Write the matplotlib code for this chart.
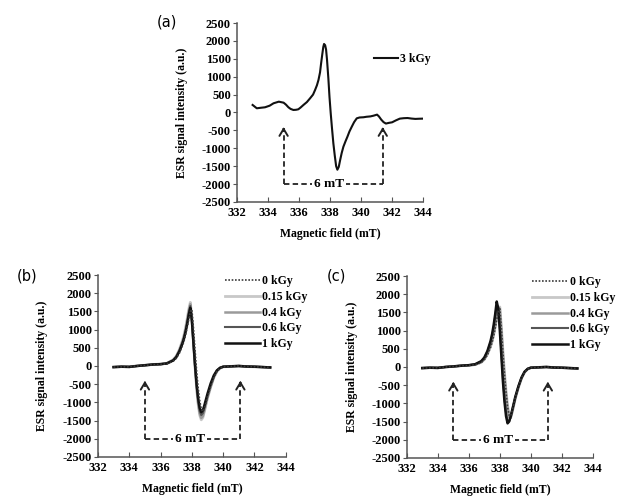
import numpy as np
import matplotlib
matplotlib.use('Agg')
import matplotlib.pyplot as plt

plt.rcParams['font.family'] = ['Liberation Serif', 'DejaVu Serif']
plt.rcParams['font.weight'] = 'bold'

# panel (a): 3 kGy
a_field = [333.0, 333.27, 333.5, 333.8, 334.1, 334.35, 334.69, 335.0, 335.15, 335.31, 335.45, 335.63,
           335.8, 335.95, 336.1, 336.28, 336.5, 336.71, 336.9, 337.03, 337.15, 337.25, 337.35, 337.42,
           337.5, 337.56, 337.61, 337.68, 337.74, 337.8, 337.89, 337.96, 338.04, 338.12, 338.21, 338.3,
           338.39, 338.47, 338.56, 338.65, 338.75, 338.86, 339.0, 339.12, 339.25, 339.4, 339.55, 339.72,
           339.9, 340.15, 340.35, 340.6, 340.8, 341.03, 341.15, 341.3, 341.45, 341.6, 341.8, 342.0,
           342.25, 342.5, 342.75, 343.0, 343.25, 343.5, 343.75, 344.0]
a_signal = [210, 117, 130, 145, 190, 257, 302, 274, 220, 145, 100, 70,
            75, 89, 140, 210, 290, 397, 500, 628, 760, 908, 1120, 1374,
            1640, 1830, 1915, 1880, 1760, 1480, 940, 440, -22, -430, -860, -1200,
            -1500, -1600, -1520, -1327, -1130, -955, -800, -676, -530, -397, -270, -164,
            -140, -134, -120, -110, -90, -60, -110, -200, -270, -310, -290, -275,
            -220, -172, -160, -155, -170, -180, -175, -172]

# panels (b) and (c): dose series
bc_field = [333.0, 333.5, 334.0, 334.5, 335.0, 335.5, 336.0, 336.4, 336.8, 337.0, 337.2, 337.4,
            337.5, 337.6, 337.7, 337.8, 337.9, 338.0, 338.1, 338.2, 338.3, 338.4, 338.5, 338.6,
            338.7, 338.8, 338.9, 339.0, 339.2, 339.4, 339.6, 339.8, 340.0, 340.5, 341.0, 341.5,
            342.0, 342.5, 343.0]
doses = ['0 kGy', '0.15 kGy', '0.4 kGy', '0.6 kGy', '1 kGy']

b_signal = {
    '0 kGy': [-30, -25, -20, 0, 15, 35, 45, 60, 130, 210, 350, 560,
              690, 860, 1060, 1280, 1500, 1550, 1050, 450, -120, -600, -950, -1180,
              -1250, -1180, -1020, -850, -560, -320, -150, -60, -25, -10, 5, -15,
              -20, -30, -40],
    '0.15 kGy': [-35, -20, -25, 5, 20, 40, 55, 75, 170, 270, 450, 700,
                 860, 1060, 1300, 1560, 1750, 1300, 650, 0, -600, -1050, -1350, -1480,
                 -1420, -1250, -1060, -880, -580, -320, -150, -60, -25, -10, 0, -15,
                 -25, -30, -45],
    '0.4 kGy': [-30, -20, -25, 0, 20, 40, 50, 70, 160, 260, 430, 670,
                820, 1010, 1250, 1500, 1700, 1280, 640, 0, -580, -1010, -1300, -1430,
                -1380, -1220, -1040, -860, -570, -310, -140, -55, -20, -10, 0, -15,
                -20, -30, -40],
    '0.6 kGy': [-30, -20, -25, 0, 20, 40, 50, 70, 155, 250, 415, 640,
                790, 970, 1200, 1450, 1650, 1260, 640, 20, -540, -960, -1240, -1350,
                -1300, -1150, -980, -810, -530, -290, -130, -50, -20, -10, 0, -15,
                -20, -30, -40],
    '1 kGy': [-30, -20, -25, 0, 20, 40, 50, 70, 150, 240, 400, 620,
              760, 940, 1150, 1400, 1600, 1250, 650, 50, -480, -880, -1150, -1270,
              -1220, -1080, -920, -760, -480, -260, -120, -50, -20, -10, 0, -15,
              -20, -30, -40],
}
c_signal = {
    '0 kGy': [-30, -25, -20, 0, 15, 30, 45, 60, 120, 200, 330, 540,
              680, 850, 1060, 1300, 1520, 1600, 1050, 400, -200, -700, -1100, -1330,
              -1350, -1200, -1020, -840, -540, -300, -140, -55, -20, -10, 0, -15,
              -25, -30, -40],
    '0.15 kGy': [-30, -20, -25, 0, 15, 35, 45, 65, 130, 210, 350, 560,
                 700, 880, 1100, 1350, 1580, 1650, 1100, 450, -150, -650, -1050, -1300,
                 -1380, -1230, -1050, -860, -560, -310, -140, -55, -20, -10, 0, -15,
                 -20, -30, -40],
    '0.4 kGy': [-30, -20, -25, 0, 15, 35, 45, 65, 130, 215, 360, 580,
                720, 900, 1130, 1390, 1620, 1600, 1000, 350, -250, -750, -1150, -1380,
                -1400, -1240, -1050, -860, -560, -310, -140, -55, -20, -10, 0, -15,
                -20, -30, -40],
    '0.6 kGy': [-30, -20, -25, 0, 15, 35, 50, 70, 150, 250, 420, 680,
                850, 1080, 1380, 1700, 1650, 1100, 400, -300, -850, -1250, -1480, -1500,
                -1380, -1200, -1020, -840, -540, -300, -130, -50, -20, -10, 0, -15,
                -20, -30, -40],
    '1 kGy': [-30, -20, -25, 0, 15, 35, 50, 75, 160, 260, 440, 710,
              900, 1150, 1450, 1800, 1600, 1000, 300, -400, -950, -1350, -1550, -1500,
              -1360, -1180, -1000, -820, -530, -290, -130, -50, -20, -10, 0, -15,
              -20, -30, -40],
}

x_ticks = [332, 334, 336, 338, 340, 342, 344]
y_ticks = [-2500, -2000, -1500, -1000, -500, 0, 500, 1000, 1500, 2000, 2500]

dose_styles = {
    '0 kGy': dict(color='#3a3a3a', lw=1.2, ls=(0, (1, 1)), zorder=6),
    '0.15 kGy': dict(color='#c8c8c8', lw=2.0, ls='-', zorder=2),
    '0.4 kGy': dict(color='#9a9a9a', lw=1.8, ls='-', zorder=3),
    '0.6 kGy': dict(color='#555555', lw=1.5, ls='-', zorder=4),
    '1 kGy': dict(color='#111111', lw=1.8, ls='-', zorder=5),
}

arrows_a = [335.0, 341.4]
arrows_bc = [335.0, 341.1]


def style_axes(ax, xlabel_y):
    ax.set_xlim(332, 344)
    ax.set_ylim(-2500, 2500)
    ax.set_xticks(x_ticks)
    ax.set_xticklabels([str(t) for t in x_ticks], fontsize=9, fontweight='bold')
    ax.set_yticks(y_ticks)
    ax.set_yticklabels([str(t) for t in y_ticks], fontsize=9, fontweight='bold')
    for s in ['top', 'right']:
        ax.spines[s].set_visible(False)
    for s in ['left', 'bottom']:
        ax.spines[s].set_color('#555555')
        ax.spines[s].set_linewidth(1.1)
    ax.tick_params(axis='x', direction='in', length=3.5, color='#555555', pad=4)
    ax.tick_params(axis='y', direction='out', length=3, color='#555555', pad=1.5)
    ax.set_ylabel('ESR signal intensity (a.u.)', fontsize=8.5, fontweight='bold')
    ax.yaxis.set_label_coords(-0.265, 0.5)
    ax.set_xlabel('Magnetic field (mT)', fontsize=8.5, fontweight='bold')
    ax.xaxis.set_label_coords(0.5, xlabel_y)


def draw_span(ax, xs, tip, text_x):
    dash = (0, (3, 1.8))
    for x in xs:
        ax.plot([x, x], [-2000, tip - 120], color='#222222', lw=1.3, ls=dash, zorder=7)
        ax.annotate('', xy=(x, tip), xytext=(x, tip - 250),
                    arrowprops=dict(arrowstyle='->,head_length=0.5,head_width=0.3',
                                    color='#222222', lw=1.4), zorder=7)
    ax.plot([xs[0], xs[1]], [-2000, -2000], color='#222222', lw=1.3, ls=dash, zorder=7)
    ax.text(text_x, -2000, '6 mT', ha='center', va='center', fontsize=9.5, fontweight='bold',
            bbox=dict(facecolor='white', edgecolor='none', pad=1.5), zorder=8)


fig = plt.figure(figsize=(6.24, 5.01), dpi=100)

ax_a = fig.add_axes([0.380, 0.597, 0.298, 0.357])
ax_a.plot(a_field, a_signal, color='#111111', lw=1.5, label='3 kGy')
style_axes(ax_a, -0.145)
draw_span(ax_a, arrows_a, -330, 337.95)
ax_a.legend(loc='upper left', bbox_to_anchor=(0.69, 0.88), frameon=False, fontsize=8.5,
            handlelength=2.1, handletextpad=0.1, borderpad=0.2)

ax_b = fig.add_axes([0.157, 0.088, 0.301, 0.363])
ax_c = fig.add_axes([0.652, 0.086, 0.298, 0.363])
for ax, data in [(ax_b, b_signal), (ax_c, c_signal)]:
    for d in doses:
        st = dose_styles[d]
        ax.plot(bc_field, data[d], color=st['color'], lw=st['lw'], ls=st['ls'],
                zorder=st['zorder'], label=d)
    style_axes(ax, -0.145)
    draw_span(ax, arrows_bc, -330, 337.9)
    ax.legend(loc='upper left', bbox_to_anchor=(0.63, 1.045), frameon=False, fontsize=8.5,
              handlelength=3.0, handletextpad=0.2, labelspacing=0.32, borderpad=0.2)

fig.text(157 / 624, 1 - 22 / 501, '(a)', fontsize=10.5, family='DejaVu Sans', weight='normal',
         va='center', ha='left')
fig.text(17 / 624, 1 - 276 / 501, '(b)', fontsize=10.5, family='DejaVu Sans', weight='normal',
         va='center', ha='left')
fig.text(327 / 624, 1 - 276 / 501, '(c)', fontsize=10.5, family='DejaVu Sans', weight='normal',
         va='center', ha='left')

fig.savefig('out.png', dpi=100)
